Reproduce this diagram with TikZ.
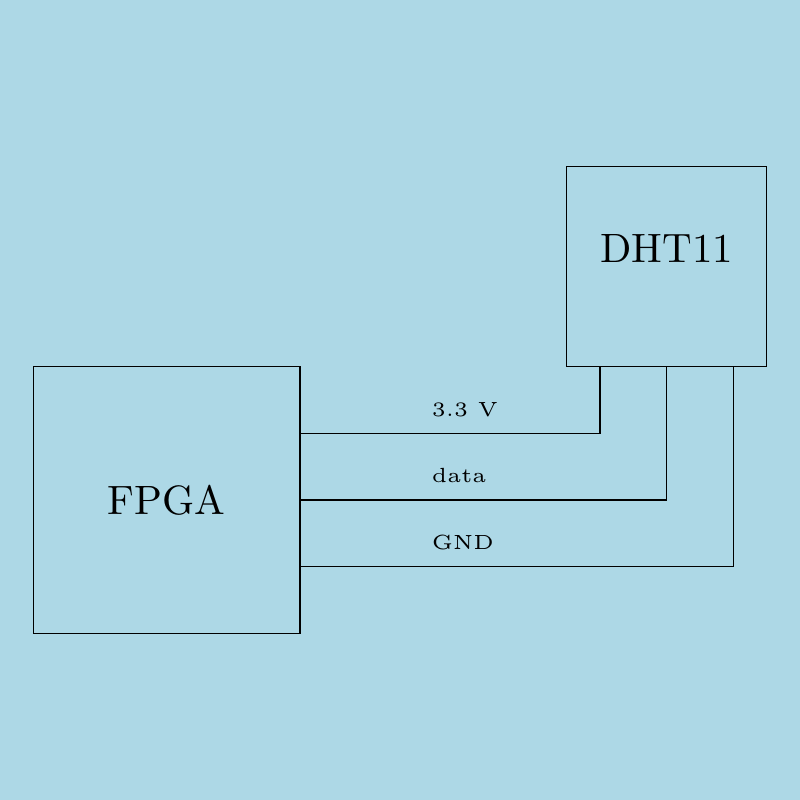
\documentclass[tikz,border=0pt]{standalone}
\usepackage{graphicx}
\definecolor{bgblue}{RGB}{173,216,230}
\begin{document}
\begin{tikzpicture}[
    line width=0.7pt,
    box/.style={draw, rectangle},
    wirelbl/.style={font=\tiny, anchor=base west}
  ]
    % Background
    \fill [bgblue] (0,0) rectangle (12,12);
    % Drawing the two blocks
    \node [box, minimum size=4cm] (fpga) at (2.5,4.5) {\scalebox{1.75}{FPGA}};
    \node [box, minimum size=3cm, text depth=0.54cm] (dht) at (10,8) {\scalebox{1.75}{DHT11}};
    % Drawing the wires
    \draw ([yshift=1cm]fpga.east) -| ([xshift=-1cm]dht.south);
    \draw (fpga.east) -| (dht.south);
    \draw ([yshift=-1cm]fpga.east) -| ([xshift=1cm]dht.south);
    % Wire labels
    \node [wirelbl] (vcc) at (6.35,5.755) {\scalebox{1.75}{3.3 V}};
    \node [wirelbl] (data) at (6.35,4.755) {\scalebox{1.75}{data}};
    \node [wirelbl] (gnd) at (6.35,3.755) {\scalebox{1.75}{GND}};
  \end{tikzpicture}
\end{document}
